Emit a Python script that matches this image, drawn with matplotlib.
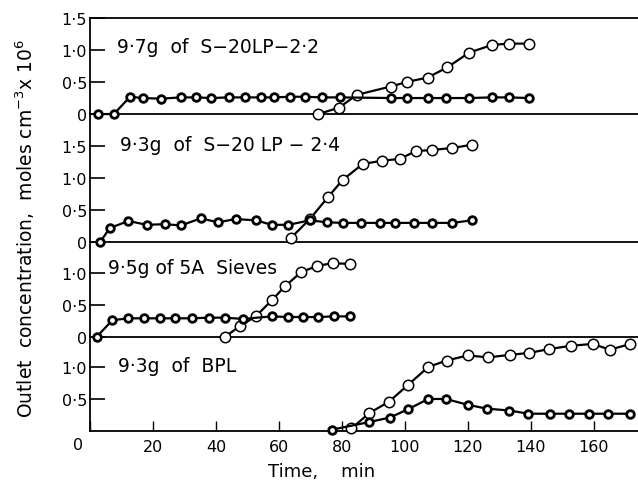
# Vier gestapelte Durchbruchskurven (Auslaufkonzentration gegen Zeit)
import matplotlib
matplotlib.use('Agg')
import matplotlib.pyplot as plt

# --- DATEN ---

# Panel 1: 9.7 g S-20LP-2.2
p1_fill_t = [2.5, 7.6, 12.7, 16.8, 22.5, 28.9, 33.7, 38.4, 44.1, 49.2, 54.3, 58.4, 63.5, 68.3, 73.7, 79.4,
             95.6, 100.6, 107.3, 113.0, 120.3, 127.6, 133.0, 139.4]
p1_fill_c = [0, 0, 0.27, 0.25, 0.24, 0.26, 0.26, 0.25, 0.26, 0.26, 0.26, 0.26, 0.27, 0.27, 0.26, 0.26,
             0.25, 0.25, 0.25, 0.25, 0.25, 0.26, 0.26, 0.25]
p1_open_t = [72.5, 79.1, 84.7, 95.5, 100.5, 107.2, 113.5, 120.4, 127.7, 133.0, 139.4]
p1_open_c = [0, 0.10, 0.30, 0.43, 0.50, 0.57, 0.73, 0.96, 1.08, 1.10, 1.10]

# Panel 2: 9.3 g S-20LP-2.4
p2_fill_t = [3.2, 6.3, 12.2, 18.0, 23.8, 28.9, 35.1, 40.7, 46.2, 52.7, 57.7, 63.0, 69.8, 75.1, 80.2,
             86.0, 92.0, 96.8, 103.0, 108.7, 115.1, 121.2]
p2_fill_c = [0, 0.22, 0.33, 0.27, 0.28, 0.26, 0.37, 0.31, 0.36, 0.34, 0.27, 0.27, 0.34, 0.31, 0.30,
             0.30, 0.30, 0.30, 0.30, 0.30, 0.30, 0.34]
p2_open_t = [63.7, 69.8, 75.7, 80.2, 86.6, 92.6, 98.4, 103.4, 108.7, 115.1, 121.2]
p2_open_c = [0.06, 0.36, 0.71, 0.97, 1.22, 1.27, 1.30, 1.42, 1.44, 1.47, 1.52]

# Panel 3: 9.5 g 5A Sieves
p3_fill_t = [2.1, 7.1, 12.2, 17.2, 22.2, 27.0, 32.3, 37.8, 42.9, 48.5, 57.7, 63.0, 67.7, 72.5, 77.4, 82.5]
p3_fill_c = [0, 0.26, 0.29, 0.29, 0.29, 0.29, 0.29, 0.30, 0.30, 0.28, 0.32, 0.31, 0.31, 0.31, 0.32, 0.32]
p3_open_t = [42.9, 47.6, 52.6, 57.7, 61.9, 67.0, 72.2, 77.0, 82.5]
p3_open_c = [0, 0.17, 0.32, 0.57, 0.79, 1.01, 1.11, 1.15, 1.14]

# Panel 4: 9.3 g BPL
p4_fill_t = [76.7, 88.7, 95.2, 101.0, 107.4, 113.0, 119.9, 125.9, 133.1, 139.2, 146.0, 152.2, 158.5, 164.5, 171.4]
p4_fill_c = [0.02, 0.14, 0.21, 0.34, 0.50, 0.50, 0.41, 0.35, 0.32, 0.27, 0.27, 0.27, 0.27, 0.27, 0.27]
p4_open_t = [83.0, 88.7, 95.0, 101.0, 107.4, 113.2, 119.9, 126.4, 133.5, 139.5, 145.8, 152.6, 159.6, 165.1, 171.6]
p4_open_c = [0.04, 0.28, 0.46, 0.72, 1.00, 1.10, 1.18, 1.15, 1.19, 1.22, 1.28, 1.33, 1.36, 1.27, 1.36]

panel_labels = ['9·7g  of  S−20LP−2·2', '9·3g  of  S−20 LP − 2·4', '9·5g of 5A  Sieves', '9·3g  of  BPL']
label_pos = [(8.6, 1.05), (9.5, 1.53), (5.7, 1.09), (8.9, 1.02)]
y_tops = [1.5, 2.0, 1.48, 1.47]
y_ticks = [[0, 0.5, 1.0, 1.5], [0, 0.5, 1.0, 1.5], [0, 0.5, 1.0], [0.5, 1.0]]
y_ticklabels = [['0', '0·5', '1·0', '1·5'], ['0', '0·5', '1·0', '1·5'], ['0', '0·5', '1·0'], ['0·5', '1·0']]
x_ticks = [0, 20, 40, 60, 80, 100, 120, 140, 160]
x_ticklabels = ['', '20', '40', '60', '80', '100', '120', '140', '160']

fill_series = [(p1_fill_t, p1_fill_c), (p2_fill_t, p2_fill_c), (p3_fill_t, p3_fill_c), (p4_fill_t, p4_fill_c)]
open_series = [(p1_open_t, p1_open_c), (p2_open_t, p2_open_c), (p3_open_t, p3_open_c), (p4_open_t, p4_open_c)]

# --- GRAFIK ---
plt.rcParams['font.family'] = 'DejaVu Sans'

fig = plt.figure(figsize=(6.38, 4.89), dpi=100)
gs = fig.add_gridspec(4, 1, height_ratios=y_tops, hspace=0,
                      left=90 / 638, right=1.0, bottom=1 - 432 / 489, top=1 - 19 / 489)
axes = [fig.add_subplot(gs[i]) for i in range(4)]

for i, ax in enumerate(axes):
    ft, fc = fill_series[i]
    ot, oc = open_series[i]
    ax.set_facecolor('none')
    # offene Kreise
    ax.plot(ot, oc, color='black', lw=1.6, marker='o', ms=7.5, mfc='white', mec='black', mew=1.1,
            zorder=3, clip_on=False)
    # "gefuellte" Kreise (dunkler Ring mit hellem Punkt)
    ax.plot(ft, fc, color='black', lw=1.6, marker='o', ms=5.5, mfc='white', mec='black', mew=2.0,
            zorder=4, clip_on=False)

    ax.set_xlim(0, 174)
    ax.set_ylim(0, y_tops[i])
    ax.set_yticks(y_ticks[i])
    ax.set_yticklabels(y_ticklabels[i])
    ax.tick_params(axis='y', direction='in', length=11, width=1.2, pad=2, labelsize=11.5)

    ax.spines['right'].set_visible(False)
    if i > 0:
        ax.spines['top'].set_visible(False)
    for s in ['left', 'bottom', 'top']:
        ax.spines[s].set_linewidth(1.3)

    ax.text(label_pos[i][0], label_pos[i][1], panel_labels[i], fontsize=13.5, va='center', ha='left')

    if i < 3:
        ax.set_xticks([])
    else:
        ax.set_xticks(x_ticks)
        ax.set_xticklabels(x_ticklabels)
        ax.tick_params(axis='x', direction='in', length=7, width=1.0, pad=6, labelsize=11.5)

# "0" der Zeitachse sitzt etwas links von der Achse
axes[3].text(-3.8, -0.1, '0', fontsize=11.5, ha='center', va='top')

fig.text(322 / 638, 1 - 472 / 489, 'Time,    min', fontsize=13, ha='center', va='center')
fig.text(25 / 638, 1 - 228 / 489, 'Outlet  concentration,  moles cm$^{-3}$x 10$^{6}$',
         fontsize=13.5, rotation=90, ha='center', va='center')

plt.savefig('out.png', dpi=100)
